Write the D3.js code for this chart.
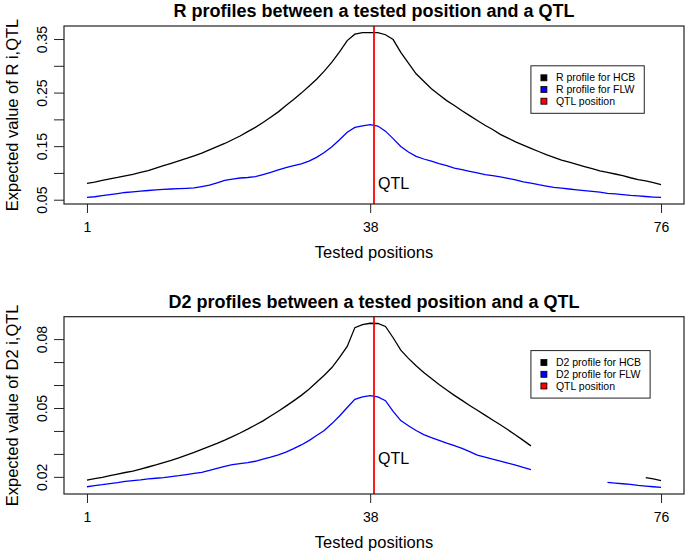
<!DOCTYPE html>
<html>
<head>
<meta charset="utf-8">
<script src="https://cdn.jsdelivr.net/npm/d3@7"></script>
<style>
  body { margin: 0; background: #fff; }
  text { font-family: "Liberation Sans", Arial, Helvetica, sans-serif; fill: #000; }
</style>
</head>
<body>
<div id="chart"></div>
<script>
// tested positions 1..76
const positions = d3.range(1, 77);

// R profiles (expected value of R i,QTL)
const rHCB = [0.0805,0.083,0.086,0.089,0.0915,0.0945,0.0975,0.101,0.1045,0.109,
  0.1135,0.118,0.1225,0.127,0.132,0.137,0.143,0.149,0.155,0.162,
  0.169,0.177,0.185,0.194,0.204,0.214,0.226,0.237,0.249,0.262,
  0.275,0.290,0.307,0.326,0.347,0.359,0.362,0.362,0.362,0.358,
  0.349,0.325,0.305,0.285,0.271,0.257,0.246,0.235,0.226,0.216,
  0.207,0.198,0.189,0.181,0.172,0.165,0.158,0.152,0.146,0.140,
  0.134,0.129,0.124,0.120,0.116,0.112,0.108,0.104,0.101,0.098,
  0.095,0.091,0.0875,0.085,0.082,0.078];
const rFLW = [0.0543,0.0555,0.0575,0.0595,0.0615,0.0635,0.0648,0.066,0.0672,0.0683,
  0.0693,0.070,0.0706,0.0712,0.0720,0.0745,0.0772,0.0815,0.086,0.0885,
  0.0905,0.0915,0.0930,0.097,0.101,0.1055,0.110,0.1135,0.117,0.122,
  0.129,0.138,0.149,0.162,0.176,0.185,0.188,0.190,0.1875,0.178,
  0.164,0.1495,0.139,0.131,0.126,0.122,0.1175,0.1135,0.109,0.106,
  0.103,0.100,0.097,0.095,0.0925,0.090,0.087,0.0835,0.081,0.078,
  0.0755,0.073,0.0715,0.070,0.0685,0.067,0.0655,0.064,0.062,0.061,
  0.0595,0.058,0.057,0.056,0.055,0.0543];

// D2 profiles (missing values where the curve is not drawn)
const d2HCB = [0.0186,0.0192,0.0198,0.0205,0.0212,0.0219,0.0225,0.0234,0.0243,0.0252,
  0.0262,0.0272,0.0283,0.0295,0.0307,0.0320,0.0333,0.0346,0.0360,0.0375,
  0.0391,0.0408,0.0426,0.0444,0.0465,0.0486,0.0508,0.0531,0.0555,0.0582,
  0.0612,0.0643,0.0676,0.0720,0.0768,0.0850,0.0863,0.0869,0.0868,0.0855,
  0.0806,0.0752,0.0716,0.0684,0.0655,0.0628,0.0602,0.0578,0.0555,0.0533,
  0.0511,0.0490,0.0469,0.0448,0.0427,0.0405,0.0382,0.0359,0.0335,null,
  null,null,null,null,null,null,null,null,null,null,
  null,null,null,0.0197,0.0191,0.0184];
const d2FLW = [0.0157,0.0162,0.0166,0.0171,0.0175,0.0180,0.0184,0.0187,0.0191,0.0194,
  0.0197,0.0201,0.0205,0.0210,0.0215,0.0220,0.0228,0.0237,0.0246,0.0253,
  0.0258,0.0262,0.0268,0.0277,0.0286,0.0296,0.0308,0.0323,0.0339,0.0358,
  0.0380,0.0402,0.0432,0.0465,0.0502,0.0538,0.0548,0.0554,0.0548,0.0532,
  0.0485,0.0445,0.0423,0.0402,0.0384,0.0371,0.0359,0.0347,0.0336,0.0324,
  0.0310,0.0295,0.0286,0.0277,0.0269,0.0260,0.0251,0.0241,0.0232,null,
  null,null,null,null,null,null,null,null,0.0176,0.0173,
  0.0170,0.0167,0.0163,0.0160,0.0157,0.0154];

const xTicks = [1, 38, 76];
const rTicks = [0.05, 0.10, 0.15, 0.20, 0.25, 0.30, 0.35];
const rTickLabels = [0.05, 0.15, 0.25, 0.35];
const d2Ticks = [0.02, 0.03, 0.04, 0.05, 0.06, 0.07, 0.08];
const d2TickLabels = [0.02, 0.05, 0.08];

const qtlPos = 38.5;
const colors = ["#000000", "#0000ff", "#ff0000"];

const W = 685, H = 552;
const svg = d3.select("#chart").append("svg")
  .attr("width", W).attr("height", H);

// one panel, R base-graphics look
function panel(o) {
  const left = 64, right = 684;
  const x = d3.scaleLinear().domain([1 - 3, 76 + 3]).range([left, right]);
  const all = o.series.flat().filter(v => v != null);
  const lo = d3.min(all), hi = d3.max(all), pad = (hi - lo) * 0.04;
  const y = d3.scaleLinear().domain([lo - pad, hi + pad]).range([o.bottom, o.top]);
  const g = svg.append("g");

  // title
  g.append("text")
    .attr("x", (left + right) / 2).attr("y", o.top - 9)
    .attr("text-anchor", "middle")
    .style("font-weight", "bold").style("font-size", "18px")
    .text(o.title);

  // curves
  const line = d3.line()
    .defined(d => d[1] != null)
    .x(d => x(d[0])).y(d => y(d[1]));
  o.series.forEach((s, i) => {
    g.append("path")
      .datum(positions.map((p, j) => [p, s[j]]))
      .attr("fill", "none")
      .attr("stroke", colors[i])
      .attr("stroke-width", 1.3)
      .attr("d", line);
  });

  // QTL line + label
  g.append("line")
    .attr("x1", x(qtlPos)).attr("x2", x(qtlPos))
    .attr("y1", o.top).attr("y2", o.bottom)
    .attr("stroke", colors[2]).attr("stroke-width", 1.8);
  g.append("text")
    .attr("x", x(qtlPos) + 4).attr("y", y(o.qtlLabelY))
    .attr("dy", "0.35em")
    .style("font-size", "16px")
    .text("QTL");

  // axes
  const xAxis = d3.axisBottom(x).tickValues(xTicks).tickSize(9).tickPadding(9)
    .tickFormat(d3.format("d"));
  const gx = g.append("g").attr("transform", `translate(0,${o.bottom})`).call(xAxis);
  gx.select(".domain").remove();
  gx.selectAll("line").attr("stroke", "#222");
  gx.selectAll("text").style("font-size", "14px").attr("font-family", null).attr("fill", "#000");

  const fmt = d3.format(".2f");
  const yAxis = d3.axisLeft(y).tickValues(o.ticks).tickSize(10)
    .tickFormat(d => o.labels.some(l => Math.abs(l - d) < 1e-9) ? fmt(d) : "");
  const gy = g.append("g").attr("transform", `translate(${left},0)`).call(yAxis);
  gy.select(".domain").remove();
  gy.selectAll("line").attr("stroke", "#222");
  gy.selectAll("text")
    .attr("transform", "rotate(-90)")
    .attr("x", 0).attr("y", -17).attr("dy", null)
    .attr("text-anchor", "middle")
    .attr("font-family", null).attr("fill", "#000")
    .style("font-size", "14px");

  // box
  g.append("rect")
    .attr("x", left).attr("y", o.top)
    .attr("width", right - left).attr("height", o.bottom - o.top)
    .attr("fill", "none").attr("stroke", "#222").attr("stroke-width", 1.2);

  // axis titles
  g.append("text")
    .attr("x", (left + right) / 2).attr("y", o.bottom + 54)
    .attr("text-anchor", "middle").style("font-size", "16.5px")
    .text("Tested positions");
  g.append("text")
    .attr("transform", `translate(18,${(o.top + o.bottom) / 2}) rotate(-90)`)
    .attr("text-anchor", "middle").style("font-size", "16.5px")
    .text(o.yTitle);

  // legend
  const lx = x(o.legendAt[0]), ly = y(o.legendAt[1]);
  const lg = g.append("g").attr("transform", `translate(${lx},${ly})`);
  const items = lg.selectAll("g.item").data(o.legend).join("g")
    .attr("class", "item")
    .attr("transform", (d, i) => `translate(0,${12 + i * 11.7})`);
  items.append("rect")
    .attr("x", 10).attr("y", -3).attr("width", 6).attr("height", 6)
    .attr("fill", (d, i) => colors[i]).attr("stroke", "#000").attr("stroke-width", 0.8);
  items.append("text")
    .attr("x", 25).attr("dy", "0.35em")
    .style("font-size", "10.5px")
    .text(d => d);
  const bw = d3.max(items.selectAll("text").nodes(), n => n.getComputedTextLength()) + 34;
  lg.insert("rect", ":first-child")
    .attr("x", 0).attr("y", 0).attr("width", bw).attr("height", 47.5)
    .attr("fill", "#fff").attr("stroke", "#222").attr("stroke-width", 1);
}

panel({
  title: "R profiles between a tested position and a QTL",
  yTitle: "Expected value of R i,QTL",
  top: 26, bottom: 204,
  series: [rHCB, rFLW],
  ticks: rTicks, labels: rTickLabels,
  qtlLabelY: 0.08,
  legendAt: [59, 0.30],
  legend: ["R profile for HCB", "R profile for FLW", "QTL position"]
});

panel({
  title: "D2 profiles between a tested position and a QTL",
  yTitle: "Expected value of D2 i,QTL",
  top: 316.7, bottom: 494,
  series: [d2HCB, d2FLW],
  ticks: d2Ticks, labels: d2TickLabels,
  qtlLabelY: 0.028,
  legendAt: [59, 0.075],
  legend: ["D2 profile for HCB", "D2 profile for FLW", "QTL position"]
});
</script>
</body>
</html>
